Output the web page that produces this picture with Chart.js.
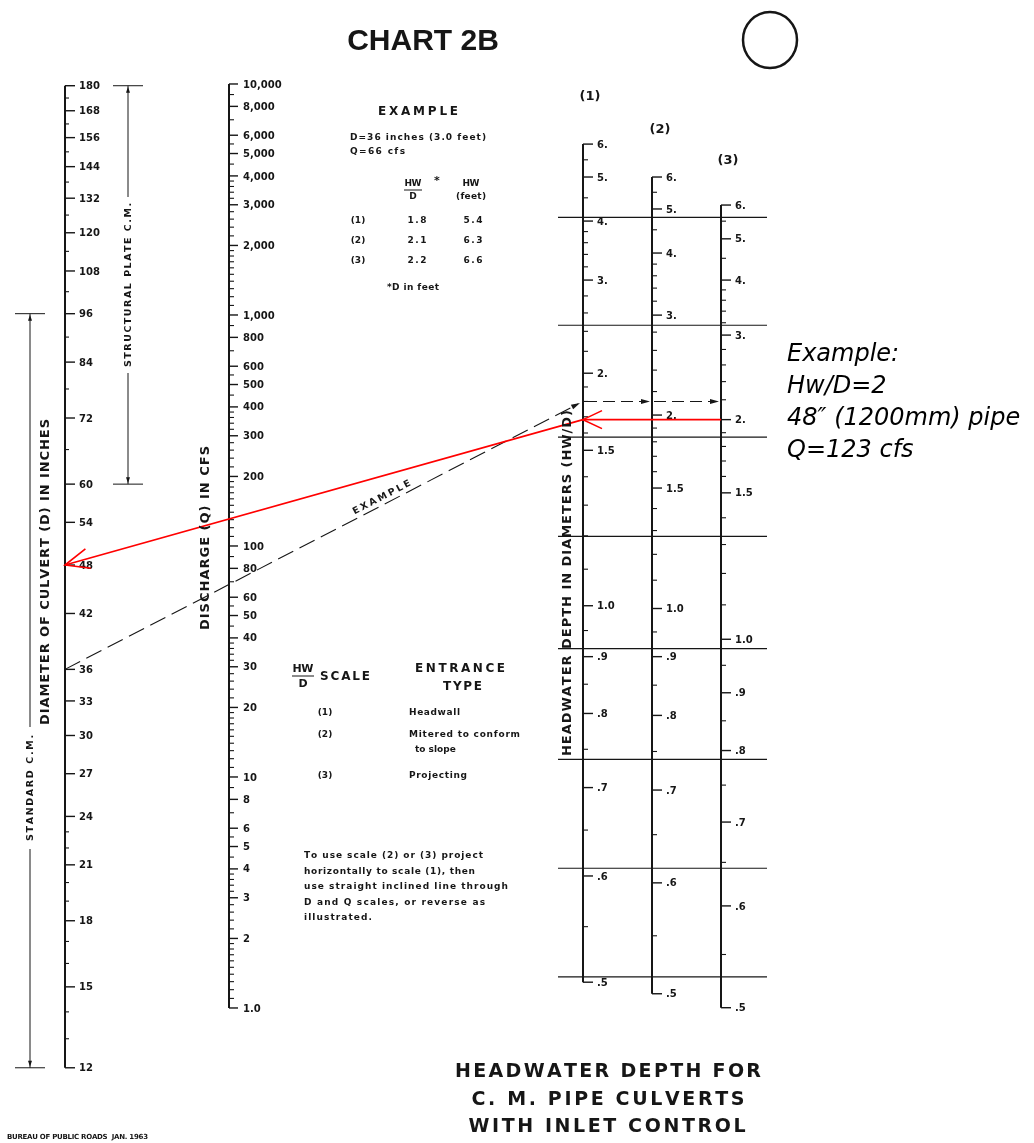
<!DOCTYPE html>
<html>
<head>
<meta charset="utf-8">
<script src="https://cdn.jsdelivr.net/npm/chart.js@4.4.1/dist/chart.umd.min.js"></script>
<style>
  html, body { margin: 0; padding: 0; background: #fff; }
</style>
</head>
<body>
<canvas id="nomo" width="1034" height="1143"></canvas>
<script>
// Diameter scale (inches)
const diameterTicks = [180, 168, 156, 144, 132, 120, 108, 96, 84, 72, 60, 54, 48, 42, 36, 33, 30, 27, 24, 21, 18, 15, 12];
const diameterMinor = [174, 162, 150, 138, 126, 114, 102, 90, 78, 66, 23, 22, 20, 19, 17, 16, 14, 13];
const structuralPlate = [60, 180];
const standardCM = [12, 96];

// Discharge scale (cfs)
const dischargeTicks = [10000, 8000, 6000, 5000, 4000, 3000, 2000, 1000, 800, 600, 500, 400, 300, 200, 100, 80, 60, 50, 40, 30, 20, 10, 8, 6, 5, 4, 3, 2, 1];
const dischargeText = ['10,000', '8,000', '6,000', '5,000', '4,000', '3,000', '2,000', '1,000', '800', '600', '500', '400', '300', '200', '100', '80', '60', '50', '40', '30', '20', '10', '8', '6', '5', '4', '3', '2', '1.0'];
const dischargeDecades = [1, 10, 100, 1000];
const dischargeMinorSteps = [1.1, 1.2, 1.3, 1.4, 1.5, 1.6, 1.7, 1.8, 1.9, 2.2, 2.4, 2.6, 2.8, 3.2, 3.4, 3.6, 3.8, 4.5, 5.5, 7, 9];

// HW/D scales, with the Q/D^2.5 value (D in feet) each tick sits at
const hwTicks = [6, 5, 4, 3, 2, 1.5, 1.0, 0.9, 0.8, 0.7, 0.6, 0.5];
const hwText = ['6.', '5.', '4.', '3.', '2.', '1.5', '1.0', '.9', '.8', '.7', '.6', '.5'];
const hwMinor = [5.5, 4.5, 3.8, 3.6, 3.4, 3.2, 2.8, 2.6, 2.4, 2.2, 1.9, 1.8, 1.7, 1.6, 1.4, 1.3, 1.2, 1.1, 0.95, 0.85, 0.75, 0.65, 0.55];
const ratioScale1 = [9.83, 8.86, 7.71, 6.40, 4.77, 3.74, 2.29, 1.95, 1.63, 1.29, 0.976, 0.698];
const ratioScale2 = [8.86, 8.01, 6.97, 5.73, 4.18, 3.32, 2.27, 1.95, 1.62, 1.28, 0.955, 0.673];
const ratioScale3 = [8.11, 7.29, 6.40, 5.38, 4.12, 3.27, 2.06, 1.74, 1.45, 1.157, 0.888, 0.644];
const ratioGrid = [7.8, 5.55, 3.9, 2.85, 2.0, 1.41, 1.0, 0.71];

// worked examples
const exampleD = 36;
const exampleQ = 66;
const exampleHW = [1.8, 2.1, 2.2];
const exampleHWft = [5.4, 6.3, 6.6];
const redHW = 2;
const redD = 48;
const redQ = 123;

// layout (x scale units = px)
const axisX = { D: 65, Q: 229, H1: 583, H2: 652, H3: 721, plate: 128, standard: 30 };
const INK = '#161616';
const FONT = '"DejaVu Sans", sans-serif';

function hwToRatio(hw, ratios) {
  for (let i = 0; i < hwTicks.length - 1; i++) {
    const a = hwTicks[i], b = hwTicks[i + 1];
    if (hw <= a && hw >= b) {
      const t = Math.log(hw / a) / Math.log(b / a);
      return Math.exp(Math.log(ratios[i]) + t * Math.log(ratios[i + 1] / ratios[i]));
    }
  }
  return NaN;
}

function line(ctx, x1, y1, x2, y2) {
  ctx.beginPath();
  ctx.moveTo(x1, y1);
  ctx.lineTo(x2, y2);
  ctx.stroke();
}

function arrowHead(ctx, x1, y1, x2, y2, len, half, filled) {
  const a = Math.atan2(y2 - y1, x2 - x1);
  const bx = x2 - len * Math.cos(a), by = y2 - len * Math.sin(a);
  const nx = -Math.sin(a) * half, ny = Math.cos(a) * half;
  ctx.beginPath();
  ctx.moveTo(bx + nx, by + ny);
  ctx.lineTo(x2, y2);
  ctx.lineTo(bx - nx, by - ny);
  if (filled) { ctx.closePath(); ctx.fill(); } else { ctx.stroke(); }
}

// text spread out to a given width (old lettering-guide look)
function text(ctx, str, x, y, font, align, width, angle) {
  ctx.save();
  ctx.translate(x, y);
  if (angle) ctx.rotate(angle);
  ctx.font = font;
  ctx.textBaseline = 'middle';
  if (!width) {
    ctx.textAlign = align || 'left';
    ctx.fillText(str, 0, 0);
  } else {
    const chars = [...str];
    const w = chars.map(c => ctx.measureText(c).width);
    const total = w.reduce((s, v) => s + v, 0);
    const gap = chars.length > 1 ? (width - total) / (chars.length - 1) : 0;
    let cx = align === 'center' ? -width / 2 : 0;
    ctx.textAlign = 'left';
    chars.forEach((c, i) => { ctx.fillText(c, cx, 0); cx += w[i] + gap; });
  }
  ctx.restore();
}

function drawScale(ctx, x, yOf, values, labels, minor, majorLen, minorLen) {
  const ys = values.map(yOf);
  ctx.lineWidth = 2;
  line(ctx, x, Math.min(...ys), x, Math.max(...ys));
  ctx.lineWidth = 1.4;
  ys.forEach(y => line(ctx, x, y, x + majorLen, y));
  ctx.lineWidth = 1.1;
  minor.forEach(v => { const y = yOf(v); line(ctx, x, y, x + minorLen, y); });
  ctx.font = 'bold 10px ' + FONT;
  ctx.textAlign = 'left';
  ctx.textBaseline = 'middle';
  ys.forEach((y, i) => ctx.fillText(labels[i], x + 14, y + 1));
}

function bracket(ctx, x, yTop, yBottom, gapTop, gapBottom) {
  ctx.lineWidth = 1;
  line(ctx, x - 15, yTop, x + 15, yTop);
  line(ctx, x - 15, yBottom, x + 15, yBottom);
  line(ctx, x, yTop, x, gapTop);
  line(ctx, x, gapBottom, x, yBottom);
  arrowHead(ctx, x, yTop + 12, x, yTop + 1, 6, 2, true);
  arrowHead(ctx, x, yBottom - 12, x, yBottom - 1, 6, 2, true);
}

const nomographPlugin = {
  id: 'nomograph',
  afterDraw(chart) {
    const ctx = chart.ctx;
    const px = v => chart.scales.x.getPixelForValue(v);
    const yD = v => chart.scales.yD.getPixelForValue(v);
    const yQ = v => chart.scales.yQ.getPixelForValue(v);
    const yH = v => chart.scales.yH.getPixelForValue(v);
    ctx.save();
    ctx.strokeStyle = INK;
    ctx.fillStyle = INK;
    ctx.lineCap = 'butt';

    // horizontal reference lines across the HW/D scales
    ctx.lineWidth = 1.2;
    ratioGrid.forEach(r => line(ctx, px(axisX.H1 - 25), yH(r), px(axisX.H3 + 46), yH(r)));

    // D scale
    drawScale(ctx, px(axisX.D), yD, diameterTicks, diameterTicks.map(String), diameterMinor, 10, 4);
    // Q scale
    const qMinor = [];
    dischargeDecades.forEach(d => dischargeMinorSteps.forEach(m => qMinor.push(m * d)));
    drawScale(ctx, px(axisX.Q), yQ, dischargeTicks, dischargeText, qMinor, 9, 5);
    // HW/D scales
    [[axisX.H1, ratioScale1], [axisX.H2, ratioScale2], [axisX.H3, ratioScale3]].forEach(([x, ratios]) => {
      drawScale(ctx, px(x), v => yH(hwToRatio(v, ratios)), hwTicks, hwText, hwMinor, 10, 5);
    });

    // pipe type brackets on the D scale
    bracket(ctx, px(axisX.plate), yD(structuralPlate[1]), yD(structuralPlate[0]), 197, 373);
    bracket(ctx, px(axisX.standard), yD(standardCM[1]), yD(standardCM[0]), 727, 849);

    // printed example: D=36, HW/D 1.8 on scale (1), projected to (2) and (3)
    const ex0 = { x: px(axisX.D), y: yD(exampleD) };
    const ex1 = { x: px(axisX.H1), y: yH(hwToRatio(exampleHW[0], ratioScale1)) };
    ctx.lineWidth = 1.1;
    ctx.setLineDash([17, 7]);
    line(ctx, ex0.x, ex0.y, ex1.x - 5, ex1.y + 2.5);
    ctx.setLineDash([12, 6]);
    line(ctx, ex1.x + 2, ex1.y, px(axisX.H2) - 4, ex1.y);
    line(ctx, px(axisX.H2) + 2, ex1.y, px(axisX.H3) - 4, ex1.y);
    ctx.setLineDash([]);
    arrowHead(ctx, ex0.x, ex0.y, ex1.x - 3, ex1.y + 1.5, 9, 2.5, true);
    arrowHead(ctx, ex1.x, ex1.y, px(axisX.H2) - 2, ex1.y, 9, 2.5, true);
    arrowHead(ctx, ex1.x, ex1.y, px(axisX.H3) - 2, ex1.y, 9, 2.5, true);
    const ang = Math.atan2(ex1.y - ex0.y, ex1.x - ex0.x);
    const ex = px(385), ey = ex0.y + (ex1.y - ex0.y) * (ex - ex0.x) / (ex1.x - ex0.x);
    text(ctx, 'EXAMPLE', ex + 7 * Math.sin(ang), ey - 7 * Math.cos(ang), 'bold 9.5px ' + FONT, 'center', 64, ang);

    // red overlay example: HW/D = 2 on scale (3), D = 48 in
    ctx.strokeStyle = '#ff0000';
    ctx.lineWidth = 1.6;
    const ry = yH(hwToRatio(redHW, ratioScale3));
    line(ctx, px(axisX.H3), ry, px(axisX.H1), ry);
    arrowHead(ctx, px(axisX.H3), ry, px(axisX.H1), ry, 19, 9, false);
    line(ctx, px(axisX.H1), ry, px(axisX.D), yD(redD));
    arrowHead(ctx, px(axisX.H1), ry, px(axisX.D), yD(redD), 24, 10, false);
    ctx.strokeStyle = INK;

    // titles and notes
    text(ctx, 'CHART 2B', 423, 42, 'bold 30px "Liberation Sans", Arial, sans-serif', 'center');
    ctx.lineWidth = 2.5;
    ctx.beginPath();
    ctx.ellipse(770, 40, 27, 28, 0, 0, Math.PI * 2);
    ctx.stroke();

    text(ctx, '(1)', 590, 97, 'bold 13px ' + FONT, 'center');
    text(ctx, '(2)', 660, 130, 'bold 13px ' + FONT, 'center');
    text(ctx, '(3)', 728, 161, 'bold 13px ' + FONT, 'center');

    const up = -Math.PI / 2;
    const title = 'bold 13px ' + FONT;
    text(ctx, 'DIAMETER OF CULVERT (D) IN INCHES', 46, 572, title, 'center', 306, up);
    text(ctx, 'DISCHARGE (Q) IN CFS', 206, 538, title, 'center', 184, up);
    text(ctx, 'HEADWATER DEPTH IN DIAMETERS (HW/D)', 568, 583, title, 'center', 346, up);
    text(ctx, 'STRUCTURAL PLATE C.M.', 129, 285, 'bold 9.5px ' + FONT, 'center', 164, up);
    text(ctx, 'STANDARD C.M.', 31, 788, 'bold 9.5px ' + FONT, 'center', 106, up);

    // example table
    const small = 'bold 9px ' + FONT;
    text(ctx, 'EXAMPLE', 418, 112, 'bold 12px ' + FONT, 'center', 80);
    text(ctx, 'D=' + exampleD + ' inches (' + (exampleD / 12).toFixed(1) + ' feet)', 350, 138, small, 'left', 136);
    text(ctx, 'Q=' + exampleQ + ' cfs', 350, 152, small, 'left', 55);
    text(ctx, 'HW', 413, 184, small, 'center', 17);
    ctx.lineWidth = 1;
    line(ctx, 404, 190, 422, 190);
    text(ctx, 'D', 413, 197, small, 'center');
    text(ctx, '*', 437, 181, 'bold 11px ' + FONT, 'center');
    text(ctx, 'HW', 471, 184, small, 'center', 17);
    text(ctx, '(feet)', 471, 197, small, 'center', 30);
    exampleHW.forEach((hw, i) => {
      const y = 221 + i * 20;
      text(ctx, '(' + (i + 1) + ')', 358, y, small, 'center');
      text(ctx, hw.toFixed(1), 417, y, small, 'center', 19);
      text(ctx, exampleHWft[i].toFixed(1), 473, y, small, 'center', 19);
    });
    text(ctx, '*D in feet', 413, 288, small, 'center', 52);

    // entrance type key
    text(ctx, 'HW', 303, 669, 'bold 11px ' + FONT, 'center', 21);
    line(ctx, 292, 676, 314, 676);
    text(ctx, 'D', 303, 684, 'bold 11px ' + FONT, 'center');
    text(ctx, 'SCALE', 320, 677, 'bold 12px ' + FONT, 'left', 50);
    text(ctx, 'ENTRANCE', 415, 669, 'bold 12px ' + FONT, 'left', 90);
    text(ctx, 'TYPE', 443, 687, 'bold 12px ' + FONT, 'left', 39);
    text(ctx, '(1)', 325, 713, small, 'center');
    text(ctx, 'Headwall', 409, 713, small, 'left', 51);
    text(ctx, '(2)', 325, 735, small, 'center');
    text(ctx, 'Mitered to conform', 409, 735, small, 'left', 111);
    text(ctx, 'to slope', 415, 750, small, 'left');
    text(ctx, '(3)', 325, 776, small, 'center');
    text(ctx, 'Projecting', 409, 776, small, 'left', 58);

    const notes = [
      ['To use scale (2) or (3) project', 179],
      ['horizontally to scale (1), then', 171],
      ['use straight inclined line through', 204],
      ['D and Q scales, or reverse as', 181],
      ['illustrated.', 68]
    ];
    notes.forEach(([s, w], i) => text(ctx, s, 304, 856 + i * 15.5, small, 'left', w));

    const big = 'bold 19px ' + FONT;
    text(ctx, 'HEADWATER DEPTH FOR', 608, 1072, big, 'center', 306);
    text(ctx, 'C. M. PIPE CULVERTS', 608, 1100, big, 'center', 273);
    text(ctx, 'WITH INLET CONTROL', 607, 1127, big, 'center', 277);
    text(ctx, 'BUREAU OF PUBLIC ROADS  JAN. 1963', 7, 1137, 'bold 7px ' + FONT, 'left', 141);

    // annotation for the red example
    const note = 'italic 24px ' + FONT;
    ctx.fillStyle = '#000';
    text(ctx, 'Example:', 787, 355, note, 'left');
    text(ctx, 'Hw/D=' + redHW, 787, 387, note, 'left');
    text(ctx, redD + '\u2033 (1200mm) pipe', 787, 419, note, 'left');
    text(ctx, 'Q=' + redQ + ' cfs', 787, 451, note, 'left');
    ctx.restore();
  }
};

new Chart(document.getElementById('nomo'), {
  type: 'line',
  data: { datasets: [] },
  options: {
    responsive: false,
    animation: false,
    events: [],
    layout: { padding: 0 },
    plugins: { legend: { display: false }, tooltip: { enabled: false } },
    scales: {
      x: { type: 'linear', min: 0, max: 1034, display: false, bounds: 'data' },
      y: { type: 'linear', display: false },
      // log scales placed so the three nomograph columns line up
      yD: { axis: 'y', type: 'logarithmic', min: 9.752, max: 228.0, display: false, bounds: 'data' },
      yQ: { axis: 'y', type: 'logarithmic', min: 0.2603, max: 23098, display: false, bounds: 'data' },
      yH: { axis: 'y', type: 'logarithmic', min: 0.4202, max: 15.49, display: false, bounds: 'data' }
    }
  },
  plugins: [nomographPlugin]
});
</script>
</body>
</html>
